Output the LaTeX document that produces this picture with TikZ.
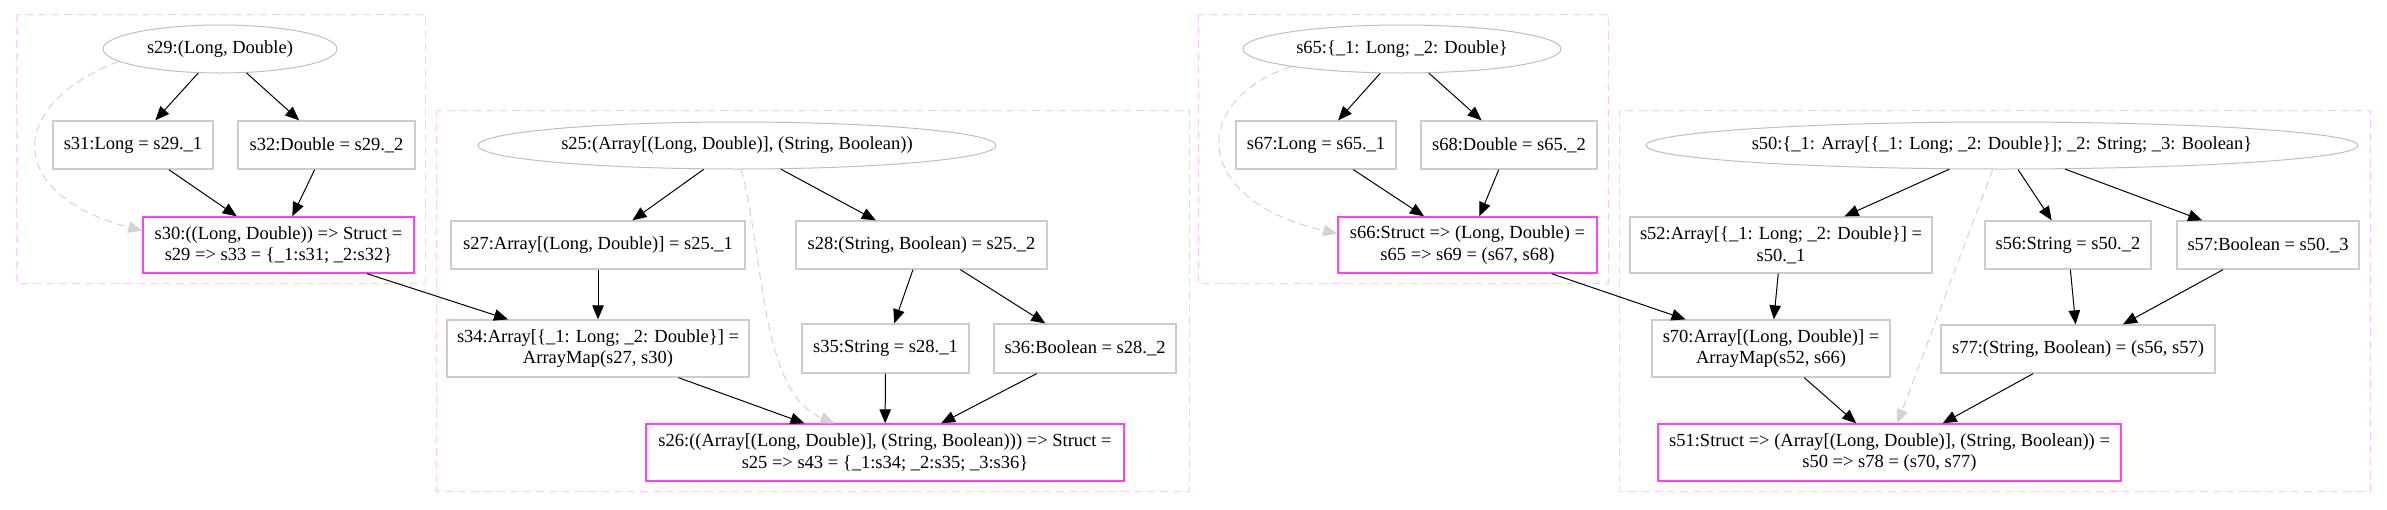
\documentclass[tikz,border=0pt]{standalone}
\usepackage{fontspec}
\setmainfont{Liberation Serif}
\usetikzlibrary{shapes.geometric,arrows.meta}
\definecolor{boxgray}{RGB}{204,204,204}
\definecolor{ellgray}{RGB}{190,190,190}
\definecolor{mag}{RGB}{255,64,255}
\definecolor{clus}{RGB}{255,200,255}
\definecolor{depgray}{RGB}{211,211,211}
\begin{document}
\begin{tikzpicture}[x=1pt,y=-1pt,
  font=\fontsize{18.5}{21.7}\selectfont,
  op/.style={draw=boxgray, line width=1.3pt, rectangle, inner sep=0pt, align=center},
  res/.style={draw=mag, line width=1.4pt, rectangle, inner sep=0pt, align=center},
  src/.style={draw=ellgray, line width=1pt, ellipse, inner sep=0pt},
  arr/.style={-{Triangle[length=14pt,width=11.5pt]}, line width=1pt, color=black},
  dep/.style={-{Triangle[length=14pt,width=11.5pt]}, line width=1pt, color=depgray, dash pattern=on 8pt off 5pt},
  clusterbox/.style={draw=clus, line width=1pt, dash pattern=on 8pt off 5pt}]
\useasboundingbox (0,0) rectangle (2387,509);
% clusters
\draw[clusterbox] (16,14) rectangle (425,283);
\draw[clusterbox] (436,110) rectangle (1189,491);
\draw[clusterbox] (1198,14) rectangle (1608,283);
\draw[clusterbox] (1619,110) rectangle (2370,491);
% cluster 1
\node[src, minimum width=234pt, minimum height=48pt] (s29) at (220,49) {s29:(Long, Double)};
\node[op, minimum width=160pt, minimum height=48pt] (s31) at (133,145) {s31:Long = s29.\_1};
\node[op, minimum width=177pt, minimum height=48pt] (s32) at (326.5,145) {s32:Double = s29.\_2};
\node[res, minimum width=271pt, minimum height=56pt] (s30) at (278.5,245) {s30:((Long, Double)) => Struct =\\ s29 => s33 = \{\_1:s31; \_2:s32\}};
% cluster 2
\node[src, minimum width=518pt, minimum height=47pt] (s25) at (737,145.5) {s25:(Array[(Long, Double)], (String, Boolean))};
\node[op, minimum width=294pt, minimum height=48pt] (s27) at (598,245) {s27:Array[(Long, Double)] = s25.\_1};
\node[op, minimum width=251pt, minimum height=48pt] (s28) at (921.5,245) {s28:(String, Boolean) = s25.\_2};
\node[op, minimum width=302pt, minimum height=57pt] (s34) at (598,348.5) {s34:Array[\{\_1: Long; \_2: Double\}] =\\ ArrayMap(s27, s30)};
\node[op, minimum width=167pt, minimum height=49pt] (s35) at (885.5,348.5) {s35:String = s28.\_1};
\node[op, minimum width=182pt, minimum height=49pt] (s36) at (1085,348.5) {s36:Boolean = s28.\_2};
\node[res, minimum width=478pt, minimum height=57pt] (s26) at (885,452.5) {s26:((Array[(Long, Double)], (String, Boolean))) => Struct =\\ s25 => s43 = \{\_1:s34; \_2:s35; \_3:s36\}};
% cluster 3
\node[src, minimum width=318pt, minimum height=48pt] (s65) at (1402,49) {s65:\{\_1: Long; \_2: Double\}};
\node[op, minimum width=160pt, minimum height=48pt] (s67) at (1316,145) {s67:Long = s65.\_1};
\node[op, minimum width=176pt, minimum height=48pt] (s68) at (1509,145) {s68:Double = s65.\_2};
\node[res, minimum width=259pt, minimum height=56pt] (s66) at (1467.5,245) {s66:Struct => (Long, Double) =\\ s65 => s69 = (s67, s68)};
% cluster 4
\node[src, minimum width=712pt, minimum height=47pt] (s50) at (2002,145.5) {s50:\{\_1: Array[\{\_1: Long; \_2: Double\}]; \_2: String; \_3: Boolean\}};
\node[op, minimum width=302pt, minimum height=56pt] (s52) at (1781,245) {s52:Array[\{\_1: Long; \_2: Double\}] =\\ s50.\_1};
\node[op, minimum width=166pt, minimum height=48pt] (s56) at (2068,245) {s56:String = s50.\_2};
\node[op, minimum width=182pt, minimum height=48pt] (s57) at (2268,245) {s57:Boolean = s50.\_3};
\node[op, minimum width=238pt, minimum height=57pt] (s70) at (1771,348.5) {s70:Array[(Long, Double)] =\\ ArrayMap(s52, s66)};
\node[op, minimum width=274pt, minimum height=48pt] (s77) at (2078,349) {s77:(String, Boolean) = (s56, s57)};
\node[res, minimum width=463pt, minimum height=57pt] (s51) at (1889.5,452.5) {s51:Struct => (Array[(Long, Double)], (String, Boolean)) =\\ s50 => s78 = (s70, s77)};
% edges cluster 1
\draw[arr] (s29) -- (s31);
\draw[arr] (s29) -- (s32);
\draw[arr] (s31) -- (s30);
\draw[arr] (s32) -- (s30);
\draw[dep] (s29.187) .. controls (5,105) and (5,195) .. (s30.174);
\draw[arr] (s30) -- (s34);
% edges cluster 2
\draw[arr] (s25) -- (s27);
\draw[arr] (s25) -- (s28);
\draw[arr] (s27) -- (s34);
\draw[arr] (s28) -- (s35);
\draw[arr] (s28) -- (s36);
\draw[arr] (s34) -- (s26);
\draw[arr] (s35) -- (s26);
\draw[arr] (s36) -- (s26);
\draw[dep] (s25.-80) .. controls (765,260) and (760,392) .. (s26.150);
% edges cluster 3
\draw[arr] (s65) -- (s67);
\draw[arr] (s65) -- (s68);
\draw[arr] (s67) -- (s66);
\draw[arr] (s68) -- (s66);
\draw[dep] (s65.189) .. controls (1190,100) and (1190,200) .. (s66.175);
\draw[arr] (s66) -- (s70);
% edges cluster 4
\draw[arr] (s50) -- (s52);
\draw[arr] (s50) -- (s56);
\draw[arr] (s50) -- (s57);
\draw[arr] (s52) -- (s70);
\draw[arr] (s56) -- (s77);
\draw[arr] (s57) -- (s77);
\draw[arr] (s70) -- (s51);
\draw[arr] (s77) -- (s51);
\draw[dep] (s50.249) -- (s51.75);
\end{tikzpicture}
\end{document}
